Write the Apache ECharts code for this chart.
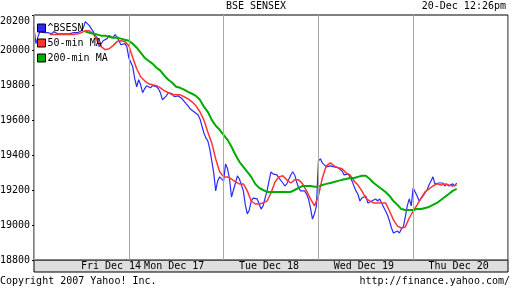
<!DOCTYPE html>
<html><head><meta charset="utf-8">
<script src="https://cdn.jsdelivr.net/npm/echarts@6/dist/echarts.min.js"></script>
<style>html,body{margin:0;padding:0;background:#fff}#c{width:512px;height:288px}</style>
</head><body><div id="c"></div>
<script>
// x unit: sample index, 48 samples (~7 trading minutes each) per trading day
const SAMPLES_PER_DAY = 48;
const DAYS = 5;
const dayLabels = ['Fri Dec 14', 'Mon Dec 17', 'Tue Dec 18', 'Wed Dec 19', 'Thu Dec 20'];
const dayLabelAt = [39, 71, 119, 167, 215];
const yMin = 18800, yMax = 20200, yStep = 200;

const bseStart = 0, bseStep = 1;
const bse = [
20128,20036,20076,20105,20099,20099,20093,20099,20093,20093,
20105,20099,20093,20099,20093,20088,20093,20099,20093,20093,
20099,20105,20099,20105,20110,20128,20162,20156,20139,20122,
20105,20082,20070,20019,20030,20053,20048,20065,20082,20088,
20070,20088,20076,20053,20030,20036,20036,20019,19956,19967,
19904,19836,19790,19830,19801,19756,19778,19796,19790,19784,
19796,19807,19790,19778,19756,19716,19727,19738,19756,19750,
19750,19733,19738,19738,19727,19721,19710,19693,19681,19664,
19653,19647,19653,19630,19607,19567,19527,19498,19481,19435,
19366,19298,19195,19252,19275,19286,19252,19349,19321,19263,
19160,19200,19240,19281,19263,19269,19195,19115,19063,19086,
19137,19154,19154,19149,19120,19091,19109,19154,19195,19252,
19304,19292,19298,19286,19269,19258,19240,19223,19235,19246,
19286,19304,19286,19246,19212,19195,19200,19195,19177,19149,
19097,19034,19063,19109,19366,19378,19355,19366,19332,19327,
19338,19327,19332,19338,19327,19338,19309,19286,19286,19292,
19275,19252,19223,19195,19177,19137,19154,19149,19166,19126,
19120,19137,19126,19149,19137,19149,19126,19103,19080,19057,
19023,18983,18954,18949,18966,18954,18977,18989,19046,19109,
19149,19109,19212,19218,19166,19137,19132,19166,19177,19200,
19229,19252,19275,19235,19235,19240,19235,19240,19223,19235,
19223,19218,19235,19223,19240
];

const ma50Start = 8, ma50Step = 2;
const ma50 = [
20088,20088,20088,20088,20088,20088,20088,20093,20099,20110,
20110,20093,20053,20019,20002,20007,20025,20048,20053,20048,
20025,19956,19893,19847,19824,19807,19801,19796,19784,19767,
19756,19744,19744,19744,19733,19721,19704,19681,19647,19601,
19532,19469,19378,19304,19275,19275,19263,19246,19235,19235,
19195,19137,19120,19120,19126,19137,19183,19246,19275,19281,
19258,19240,19258,19258,19235,19195,19149,19109,19166,19269,
19338,19355,19338,19327,19321,19298,19286,19252,19229,19195,
19154,19137,19126,19126,19126,19126,19080,19029,18994,18983,
18989,19040,19080,19115,19154,19189,19206,19223,19235,19229,
19235,19229,19223,19229
];

const ma200Start = 26, ma200Step = 2;
const ma200 = [
20105,20099,20093,20088,20082,20082,20076,20070,20070,20065,
20059,20053,20036,20013,19985,19956,19939,19922,19899,19882,
19853,19830,19813,19790,19784,19773,19761,19750,19738,19716,
19676,19647,19601,19567,19544,19515,19487,19447,19401,19361,
19332,19304,19275,19235,19212,19200,19189,19189,19189,19189,
19189,19189,19189,19200,19212,19223,19223,19223,19218,19218,
19229,19235,19240,19246,19252,19258,19263,19269,19269,19275,
19281,19281,19263,19240,19223,19206,19189,19166,19137,19115,
19091,19086,19086,19086,19091,19091,19097,19103,19115,19126,
19143,19160,19177,19195,19206
];

function pairs(arr, start, step) { return arr.map((v, k) => [start + k * step, v]); }

const FONT = 'DejaVu Sans Mono';
const chart = echarts.init(document.getElementById('c'), null, {renderer: 'canvas'});
chart.setOption({
  animation: false,
  backgroundColor: '#fff',
  textStyle: {fontFamily: FONT},
  title: [
    {text: 'BSE SENSEX', left: 'center', top: 1, padding: 0,
     textStyle: {fontSize: 10, fontWeight: 'normal', color: '#000', fontFamily: FONT}},
    {text: '20-Dec 12:26pm', right: 6, top: 1, padding: 0,
     textStyle: {fontSize: 10, fontWeight: 'normal', color: '#000', fontFamily: FONT}},
    {text: 'Copyright 2007 Yahoo! Inc.', left: 0, top: 276, padding: 0,
     textStyle: {fontSize: 10, fontWeight: 'normal', color: '#000', fontFamily: FONT}},
    {text: 'http://finance.yahoo.com/', right: 2, top: 276, padding: 0,
     textStyle: {fontSize: 10, fontWeight: 'normal', color: '#000', fontFamily: FONT}}
  ],
  legend: {
    orient: 'vertical', left: 37, top: 23, padding: 0,
    itemWidth: 8, itemHeight: 8, itemGap: 5, icon: 'rect',
    itemStyle: {borderColor: '#000', borderWidth: 1},
    textStyle: {fontSize: 10, color: '#000', fontFamily: FONT, padding: [0, 0, 0, -3]},
    data: ['^BSESN', '50-min MA', '200-min MA']
  },
  grid: [
    {left: 34, right: 4, top: 15, bottom: 28, show: true, backgroundColor: '#fff',
     borderColor: '#000', borderWidth: 1, z: 1, outerBoundsMode: 'none', containLabel: false},
    {left: 34, right: 4, top: 260, height: 12, show: true, backgroundColor: '#dedede',
     borderColor: '#000', borderWidth: 1, z: 0, outerBoundsMode: 'none', containLabel: false}
  ],
  xAxis: [
    {type: 'value', gridIndex: 0, min: 0, max: SAMPLES_PER_DAY * DAYS, interval: SAMPLES_PER_DAY, z: 5,
     axisLine: {show: false}, axisTick: {show: false},
     splitLine: {show: true, lineStyle: {color: '#a8a8a8', width: 1}},
     axisLabel: {customValues: dayLabelAt, margin: 1, fontSize: 10, color: '#000', fontFamily: FONT,
       formatter: v => dayLabels[dayLabelAt.indexOf(v)] || ''}},
    {type: 'value', gridIndex: 1, show: false, min: 0, max: 1}
  ],
  yAxis: [
    {type: 'value', gridIndex: 0, min: yMin, max: yMax, interval: yStep,
     axisLine: {show: false},
     axisTick: {show: true, length: 2, lineStyle: {color: '#000'}},
     splitLine: {show: true, lineStyle: {color: '#a8a8a8', width: 1}},
     axisLabel: {margin: 4, fontSize: 10, color: '#000', fontFamily: FONT,
       formatter: v => v === yMax ? '{top|' + v + '}' : String(v),
       rich: {top: {padding: [13, 0, 0, 0], fontSize: 10, fontFamily: FONT, color: '#000'}}}},
    {type: 'value', gridIndex: 1, show: false, min: 0, max: 1}
  ],
  series: [
    {name: '^BSESN', type: 'line', xAxisIndex: 0, yAxisIndex: 0, symbol: 'none',
     color: '#2a2aff', lineStyle: {width: 1.2, color: '#2a2aff'}, z: 2,
     data: pairs(bse, bseStart, bseStep)},
    {name: '50-min MA', type: 'line', xAxisIndex: 0, yAxisIndex: 0, symbol: 'none',
     color: '#ff3333', lineStyle: {width: 1.5, color: '#ff3333'}, z: 3,
     data: pairs(ma50, ma50Start, ma50Step)},
    {name: '200-min MA', type: 'line', xAxisIndex: 0, yAxisIndex: 0, symbol: 'none',
     color: '#00aa00', lineStyle: {width: 2, color: '#00aa00'}, z: 4,
     data: pairs(ma200, ma200Start, ma200Step)}
  ]
});
</script></body></html>
